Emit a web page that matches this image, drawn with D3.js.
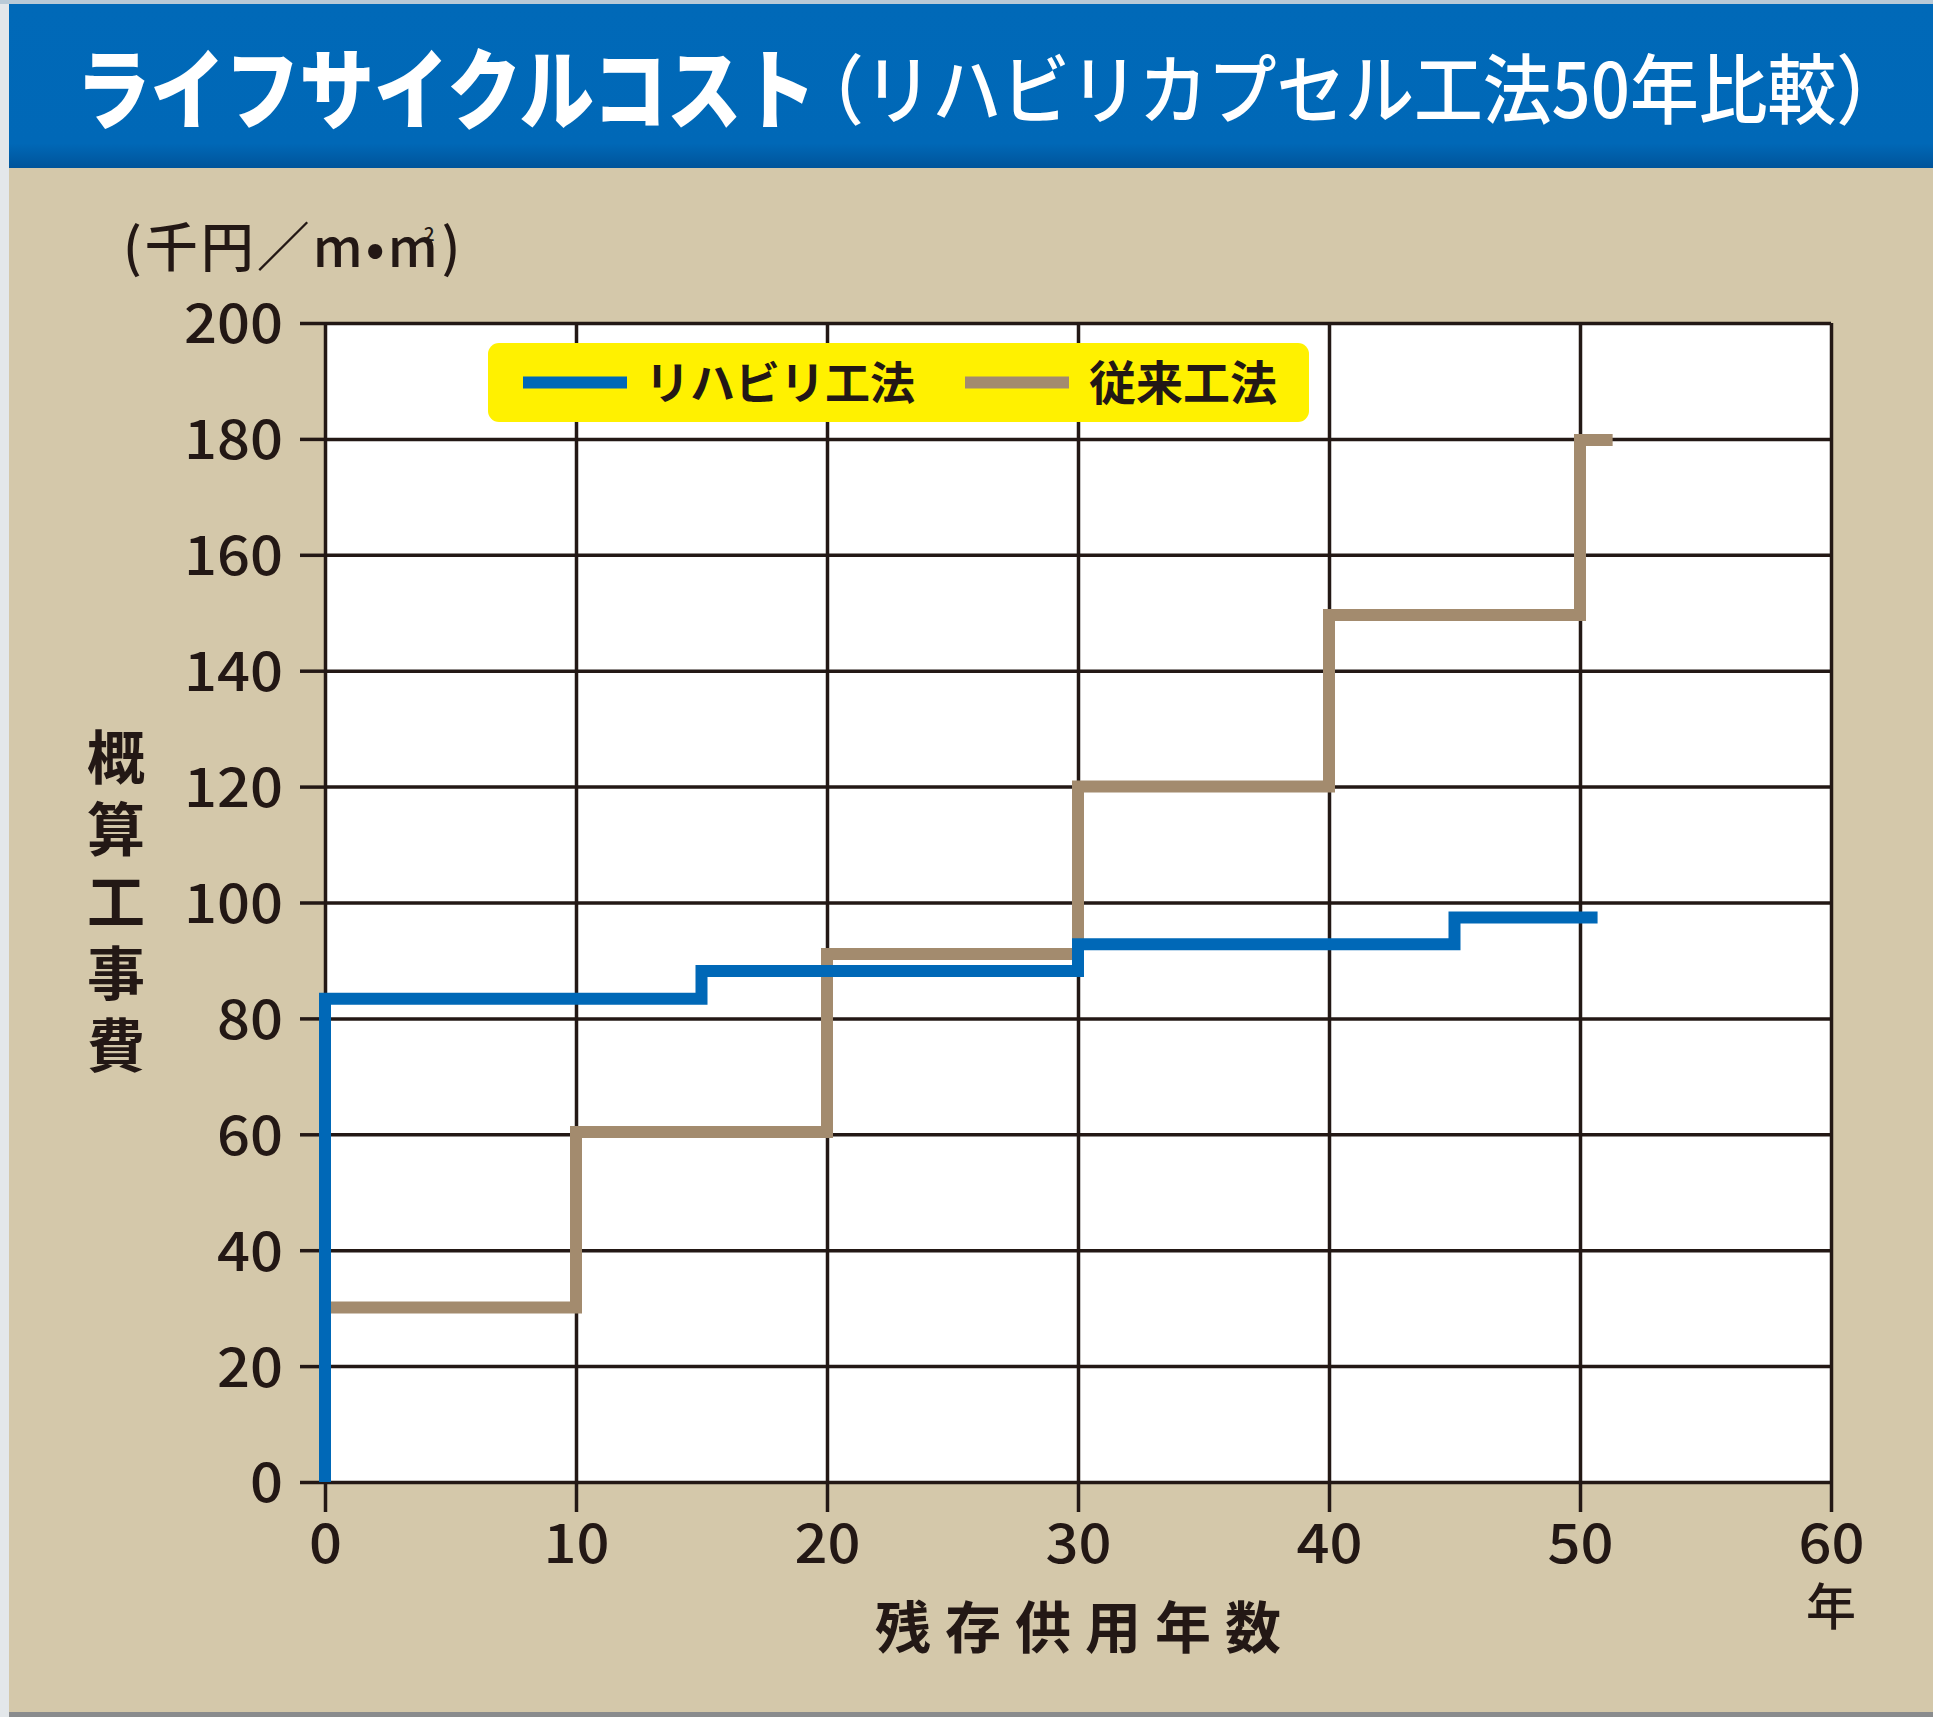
<!DOCTYPE html>
<html>
<head>
<meta charset="utf-8">
<script src="https://cdn.jsdelivr.net/npm/d3@7"></script>
<style>
  html, body { margin: 0; padding: 0; background: #e3e7ea; }
  svg { display: block; }
  text { font-family: "Noto Sans CJK JP", "Noto Sans", sans-serif; fill: #231815; }
</style>
</head>
<body>
<div id="chart"></div>
<script>
// values
var yTicks = [0, 20, 40, 60, 80, 100, 120, 140, 160, 180, 200];
var xTicks = [0, 10, 20, 30, 40, 50, 60];

// リハビリ工法 (step points)
var rehabYears = [0, 0, 15, 30, 45, 50.7];
var rehabCost  = [0, 83.4, 88.2, 92.8, 97.4, 97.4];

// 従来工法 (step points)
var convYears = [0, 10, 20, 30, 40, 50, 51.3];
var convCost  = [30.1, 60.4, 91.1, 120, 149.6, 179.8, 179.8];

var seriesNames = ["リハビリ工法", "従来工法"];
var seriesColors = ["#0068b7", "#a38b6e"];

function drawChart() {

var W = 1933, H = 1717;
var dark = "#231815";

// plot area
var pLeft = 325, pRight = 1831, pTop = 323, pBottom = 1482;

var svg = d3.select("#chart")
  .append("svg")
    .attr("width", W)
    .attr("height", H);

var defs = svg.append("defs");
var grad = defs.append("linearGradient")
    .attr("id", "band")
    .attr("x1", 0).attr("y1", 0).attr("x2", 0).attr("y2", 1);
grad.append("stop").attr("offset", "0%").attr("stop-color", "#0069b8");
grad.append("stop").attr("offset", "85%").attr("stop-color", "#0068b7");
grad.append("stop").attr("offset", "100%").attr("stop-color", "#00549a");

// page background pieces
svg.append("rect").attr("x", 0).attr("y", 0).attr("width", W).attr("height", 4).attr("fill", "#b9cad7");
svg.append("rect").attr("x", 9).attr("y", 168).attr("width", W - 9).attr("height", 1544).attr("fill", "#d4c8aa");
svg.append("rect").attr("x", 9).attr("y", 1712).attr("width", W - 9).attr("height", 5).attr("fill", "#8a8c8e");
svg.append("rect").attr("x", 9).attr("y", 4).attr("width", W - 9).attr("height", 164).attr("fill", "url(#band)");

// title
svg.append("text")
  .attr("x", 76).attr("y", 122)
  .attr("font-size", 88)
  .attr("font-weight", 900)
  .attr("textLength", 740)
  .attr("lengthAdjust", "spacingAndGlyphs")
  .style("fill", "#fff")
  .text("ライフサイクルコスト");

svg.append("text")
  .attr("x", 795).attr("y", 118)
  .attr("font-size", 76)
  .attr("font-weight", 500)
  .attr("textLength", 1110)
  .attr("lengthAdjust", "spacingAndGlyphs")
  .style("fill", "#fff")
  .text("（リハビリカプセル工法50年比較）");

// scales
var x = d3.scaleLinear().domain([0, 60]).range([pLeft, pRight]);
var y = d3.scaleLinear().domain([0, 200]).range([pBottom, pTop]);

svg.append("rect")
  .attr("x", pLeft).attr("y", pTop)
  .attr("width", pRight - pLeft).attr("height", pBottom - pTop)
  .attr("fill", "#fff");

// grid lines
var gy = svg.append("g")
  .attr("transform", "translate(" + pLeft + ",0)")
  .call(d3.axisLeft(y).tickValues(yTicks).tickSize(-(pRight - pLeft)).tickFormat(""));
var gx = svg.append("g")
  .attr("transform", "translate(0," + pBottom + ")")
  .call(d3.axisBottom(x).tickValues(xTicks).tickSize(-(pBottom - pTop)).tickFormat(""));
[gy, gx].forEach(function(g) {
  g.select(".domain").remove();
  g.selectAll("line").attr("stroke", dark).attr("stroke-width", 3.5);
});

// outer ticks + labels
var ay = svg.append("g")
  .attr("transform", "translate(" + pLeft + ",0)")
  .call(d3.axisLeft(y).tickValues(yTicks).tickSize(25).tickPadding(17));
var ax = svg.append("g")
  .attr("transform", "translate(0," + pBottom + ")")
  .call(d3.axisBottom(x).tickValues(xTicks).tickSize(30));
[ay, ax].forEach(function(g) {
  g.select(".domain").remove();
  g.selectAll("line").attr("stroke", dark).attr("stroke-width", 3.5);
  g.selectAll("text")
    .attr("font-family", "'Noto Sans CJK JP', sans-serif")
    .attr("font-size", 54)
    .attr("font-weight", 500)
    .attr("fill", dark)
    .attr("textLength", function(d) { return String(d).length * 33; })
    .attr("lengthAdjust", "spacingAndGlyphs");
});
ay.selectAll("text").attr("dy", "0.37em");
ax.selectAll("text").attr("y", 81).attr("dy", 0);

// legend
svg.append("rect")
  .attr("x", 488).attr("y", 343)
  .attr("width", 821).attr("height", 79)
  .attr("rx", 11)
  .attr("fill", "#fff100");

var legendX = [523, 965];
var legendTextX = [645, 1089];
var legendFont = [45, 47];
seriesNames.forEach(function(name, i) {
  svg.append("line")
    .attr("x1", legendX[i]).attr("x2", legendX[i] + 104)
    .attr("y1", 382.5).attr("y2", 382.5)
    .attr("stroke", seriesColors[i])
    .attr("stroke-width", 12);
  svg.append("text")
    .attr("x", legendTextX[i]).attr("y", 400)
    .attr("font-size", legendFont[i])
    .attr("font-weight", 700)
    .text(name);
});

// step lines
var line = d3.line()
  .x(function(d) { return x(d[0]); })
  .y(function(d) { return y(d[1]); })
  .curve(d3.curveStepAfter);

var convData = convYears.map(function(v, i) { return [v, convCost[i]]; });
var rehabData = rehabYears.map(function(v, i) { return [v, rehabCost[i]]; });

svg.append("path")
  .datum(convData)
  .attr("fill", "none")
  .attr("stroke", seriesColors[1])
  .attr("stroke-width", 12)
  .attr("stroke-linejoin", "miter")
  .attr("d", line);

svg.append("path")
  .datum(rehabData)
  .attr("fill", "none")
  .attr("stroke", seriesColors[0])
  .attr("stroke-width", 12)
  .attr("stroke-linejoin", "miter")
  .attr("d", line);

// unit label
var unit = svg.append("text")
  .attr("x", 123).attr("y", 267)
  .attr("font-size", 53)
  .attr("font-weight", 500)
  .attr("letter-spacing", 3);
unit.append("tspan").text("(千円／m•m");
unit.append("tspan").attr("font-size", 19).attr("dx", -17).attr("dy", -26).text("2");
unit.append("tspan").attr("dy", 26).attr("dx", 4).text(")");

// axis titles
svg.append("text")
  .attr("x", 116).attr("y", 728)
  .attr("font-size", 58)
  .attr("font-weight", 700)
  .attr("letter-spacing", 14)
  .style("writing-mode", "vertical-rl")
  .text("概算工事費");

svg.append("text")
  .attr("x", (pLeft + pRight) / 2 + 7).attr("y", 1648)
  .attr("text-anchor", "middle")
  .attr("font-size", 56)
  .attr("font-weight", 700)
  .attr("letter-spacing", 14)
  .text("残存供用年数");

svg.append("text")
  .attr("x", x(60)).attr("y", 1625)
  .attr("text-anchor", "middle")
  .attr("font-size", 50)
  .attr("font-weight", 500)
  .text("年");
}

drawChart();
</script>
</body>
</html>
